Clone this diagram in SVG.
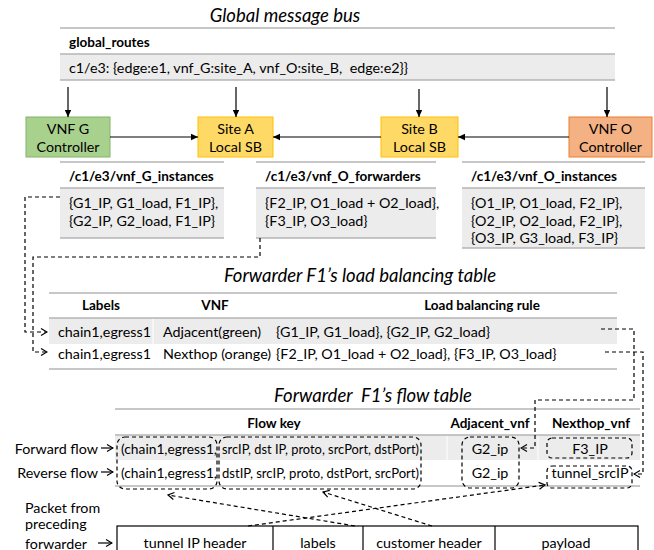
<svg xmlns="http://www.w3.org/2000/svg" width="654" height="550" viewBox="0 0 654 550">
  <style>
    text { font-family: Lato, "Liberation Sans", sans-serif; font-size: 14.3px; fill: #000; dominant-baseline: central; white-space: pre; }
    .b { font-weight: bold; font-size: 13.5px; }
    .title { font-style: italic; font-size: 18.5px; }
    .mid { text-anchor: middle; }
    .end { text-anchor: end; }
    .rule { stroke: #b4b4b4; stroke-width: 1.5; fill: none; }
    .band { fill: #ececec; }
    .sep { stroke: #ffffff; stroke-width: 1; }
    .solid { stroke: #000; stroke-width: 1.2; fill: none; }
    .dash { stroke: #000; stroke-width: 1.2; fill: none; stroke-dasharray: 4 3; }
    .green { fill: #a9d18e; stroke: #82b366; stroke-width: 1; }
    .yellow { fill: #ffd966; stroke: #ffc000; stroke-width: 1; }
    .orange { fill: #f4b183; stroke: #ed7d31; stroke-width: 1; }
    .cell { fill: none; stroke: #000; stroke-width: 1.2; }
  </style>
  <defs>
    <marker id="tri" markerWidth="8" markerHeight="8" refX="7" refY="4" orient="auto" markerUnits="userSpaceOnUse">
      <path d="M0,0.8 L7,4 L0,7.2 Z" fill="#000"/>
    </marker>
    <marker id="chev" markerWidth="8" markerHeight="10" refX="7" refY="5" orient="auto" markerUnits="userSpaceOnUse">
      <path d="M1,1.5 L7,5 L1,8.5" fill="none" stroke="#000" stroke-width="1.2"/>
    </marker>
  </defs>

  <!-- Global message bus -->
  <text class="title mid" x="285" y="15">Global message bus</text>
  <g id="global_routes">
    <rect class="band" x="60" y="54" width="555" height="26"/>
    <line class="rule" x1="60" y1="28" x2="615" y2="28"/>
    <line class="rule" x1="60" y1="54" x2="615" y2="54"/>
    <line class="rule" x1="60" y1="80" x2="615" y2="80"/>
    <text class="b" x="69" y="42">global_routes</text>
    <text x="69" y="67">c1/e3: {edge:e1, vnf_G:site_A, vnf_O:site_B,&#160; edge:e2}}</text>
  </g>

  <!-- controllers and local state buses -->
  <g id="vnf_g_controller">
    <rect class="green" x="26" y="117" width="84" height="40"/>
    <text class="mid" x="68" y="128">VNF G</text>
    <text class="mid" x="68" y="146">Controller</text>
  </g>
  <g id="site_a">
    <rect class="yellow" x="198" y="117" width="75" height="40"/>
    <text class="mid" x="235.5" y="128">Site A</text>
    <text class="mid" x="235.5" y="146">Local SB</text>
  </g>
  <g id="site_b">
    <rect class="yellow" x="381" y="117" width="77" height="40"/>
    <text class="mid" x="419.5" y="128">Site B</text>
    <text class="mid" x="419.5" y="146">Local SB</text>
  </g>
  <g id="vnf_o_controller">
    <rect class="orange" x="569" y="117" width="83" height="40"/>
    <text class="mid" x="610.5" y="128">VNF O</text>
    <text class="mid" x="610.5" y="146">Controller</text>
  </g>

  <!-- state tables -->
  <g id="vnf_g_instances">
    <rect class="band" x="60" y="188" width="164" height="50"/>
    <line class="rule" x1="60" y1="162" x2="224" y2="162"/>
    <line class="rule" x1="60" y1="188" x2="224" y2="188"/>
    <line class="rule" x1="60" y1="238" x2="224" y2="238"/>
    <text class="b" x="69" y="176">/c1/e3/vnf_G_instances</text>
    <text x="69" y="202">{G1_IP, G1_load, F1_IP},</text>
    <text x="69" y="220">{G2_IP, G2_load, F1_IP}</text>
  </g>
  <g id="vnf_o_forwarders">
    <rect class="band" x="256" y="188" width="180" height="50"/>
    <line class="rule" x1="256" y1="162" x2="436" y2="162"/>
    <line class="rule" x1="256" y1="188" x2="436" y2="188"/>
    <line class="rule" x1="256" y1="238" x2="436" y2="238"/>
    <text class="b" x="265" y="176">/c1/e3/vnf_O_forwarders</text>
    <text x="265" y="202">{F2_IP, O1_load + O2_load},</text>
    <text x="265" y="220">{F3_IP, O3_load}</text>
  </g>
  <g id="vnf_o_instances">
    <rect class="band" x="462" y="188" width="183" height="60"/>
    <line class="rule" x1="462" y1="162" x2="645" y2="162"/>
    <line class="rule" x1="462" y1="188" x2="645" y2="188"/>
    <line class="rule" x1="462" y1="248" x2="645" y2="248"/>
    <text class="b" x="471" y="176">/c1/e3/vnf_O_instances</text>
    <text x="471" y="202">{O1_IP, O1_load, F2_IP},</text>
    <text x="471" y="220">{O2_IP, O2_load, F2_IP},</text>
    <text x="471" y="237">{O3_IP, G3_load, F3_IP}</text>
  </g>

  <!-- load balancing table -->
  <text class="title mid" x="360" y="275">Forwarder F1’s load balancing table</text>
  <g id="lb_table">
    <rect class="band" x="49" y="318" width="568" height="26"/>
    <line class="sep" x1="153" y1="318" x2="153" y2="344"/>
    <line class="rule" x1="49" y1="293" x2="617" y2="293"/>
    <line class="rule" x1="49" y1="318" x2="617" y2="318"/>
    <line class="rule" x1="49" y1="369" x2="617" y2="369"/>
    <text class="b mid" x="101" y="305">Labels</text>
    <text class="b mid" x="215" y="305">VNF</text>
    <text class="b mid" x="482" y="305">Load balancing rule</text>
    <text x="58" y="331">chain1,egress1</text>
    <text x="163" y="331">Adjacent(green)</text>
    <text x="276" y="331">{G1_IP, G1_load}, {G2_IP, G2_load}</text>
    <text x="58" y="353">chain1,egress1</text>
    <text x="163" y="353">Nexthop (orange)</text>
    <text x="276" y="353">{F2_IP, O1_load + O2_load}, {F3_IP, O3_load}</text>
  </g>

  <!-- flow table -->
  <text class="title mid" x="373" y="395">Forwarder&#160; F1’s flow table</text>
  <g id="flow_table">
    <rect class="band" x="115" y="435" width="525" height="25"/>
    <line class="sep" x1="447" y1="435" x2="447" y2="460"/>
    <line class="sep" x1="538" y1="435" x2="538" y2="460"/>
    <line class="rule" x1="115" y1="409" x2="640" y2="409"/>
    <line class="rule" x1="115" y1="435" x2="640" y2="435"/>
    <line class="rule" x1="115" y1="486" x2="640" y2="486"/>
    <text class="b mid" x="274" y="423">Flow key</text>
    <text class="b mid" x="490" y="423">Adjacent_vnf</text>
    <text class="b mid" x="591" y="423">Nexthop_vnf</text>
    <text x="121" y="448" textLength="96" lengthAdjust="spacingAndGlyphs">(chain1,egress1,</text>
    <text x="222" y="448" textLength="197" lengthAdjust="spacingAndGlyphs">srcIP, dst IP, proto, srcPort, dstPort)</text>
    <text x="121" y="472" textLength="96" lengthAdjust="spacingAndGlyphs">(chain1,egress1,</text>
    <text x="222" y="472" textLength="197" lengthAdjust="spacingAndGlyphs">dstIP, srcIP, proto, dstPort, srcPort)</text>
    <text class="mid" x="490" y="448">G2_ip</text>
    <text class="mid" x="490" y="472">G2_ip</text>
    <text class="mid" x="590" y="448">F3_IP</text>
    <text class="mid" x="590" y="472">tunnel_srcIP</text>
  </g>
  <g id="flow_labels">
    <text class="end" x="98" y="448">Forward flow</text>
    <text class="end" x="98" y="472">Reverse flow</text>
    <text x="25" y="507">Packet from</text>
    <text x="25" y="523">preceding</text>
    <text x="25" y="543">forwarder</text>
  </g>

  <!-- packet from preceding forwarder -->
  <g id="packet">
    <rect class="cell" x="117" y="526" width="521" height="30"/>
    <line class="cell" x1="273" y1="526" x2="273" y2="556"/>
    <line class="cell" x1="363" y1="526" x2="363" y2="556"/>
    <line class="cell" x1="495" y1="526" x2="495" y2="556"/>
    <text class="mid" x="195" y="542">tunnel IP header</text>
    <text class="mid" x="318" y="542">labels</text>
    <text class="mid" x="429" y="542">customer header</text>
    <text class="mid" x="566" y="542">payload</text>
  </g>

  <g id="connectors">
    <!-- bus to controllers and local buses -->
    <line class="solid" x1="68" y1="87" x2="68" y2="117" marker-end="url(#tri)"/>
    <line class="solid" x1="236" y1="87" x2="236" y2="117" marker-end="url(#tri)"/>
    <line class="solid" x1="419" y1="89" x2="419" y2="117" marker-end="url(#tri)"/>
    <line class="solid" x1="607" y1="87" x2="607" y2="117" marker-end="url(#tri)"/>
    <line class="solid" x1="110" y1="137" x2="198" y2="137" marker-end="url(#tri)"/>
    <line class="solid" x1="381" y1="137" x2="273" y2="137" marker-end="url(#tri)"/>
    <line class="solid" x1="569" y1="137" x2="458" y2="137" marker-end="url(#tri)"/>
    <!-- arrows beside the flow labels -->
    <line class="solid" x1="101" y1="448" x2="113" y2="448" marker-end="url(#chev)"/>
    <line class="solid" x1="101" y1="472" x2="113" y2="472" marker-end="url(#chev)"/>
    <line class="solid" x1="98" y1="543" x2="112" y2="543" marker-end="url(#chev)"/>

    <!-- state to load balancing table -->
    <polyline class="dash" points="60,197 25,197 25,332 47,332" marker-end="url(#chev)"/>
    <polyline class="dash" points="260,238 260,257 33,257 33,352 47,352" marker-end="url(#chev)"/>

    <!-- load balancing table to flow table -->
    <polyline class="dash" points="601,329 634,329 634,400 535,400 535,448 521,448" marker-end="url(#chev)"/>
    <polyline class="dash" points="605,352 643,352 643,474 634,474" marker-end="url(#chev)"/>

    <!-- flow key groupings -->
    <rect class="dash" x="117" y="437" width="100" height="52" rx="8"/>
    <rect class="dash" x="219" y="437" width="202" height="52" rx="8"/>
    <rect class="dash" x="462" y="437" width="57" height="51" rx="8"/>
    <rect class="dash" x="547" y="438" width="85" height="20" rx="5"/>
    <rect class="dash" x="547" y="466" width="85" height="22" rx="5"/>

    <!-- packet fields to flow table -->
    <line class="dash" x1="248" y1="526" x2="545" y2="485" marker-end="url(#chev)"/>
    <line class="dash" x1="355" y1="526" x2="168" y2="495" marker-end="url(#chev)"/>
    <line class="dash" x1="432" y1="526" x2="323" y2="492" marker-end="url(#chev)"/>
  </g>
</svg>
